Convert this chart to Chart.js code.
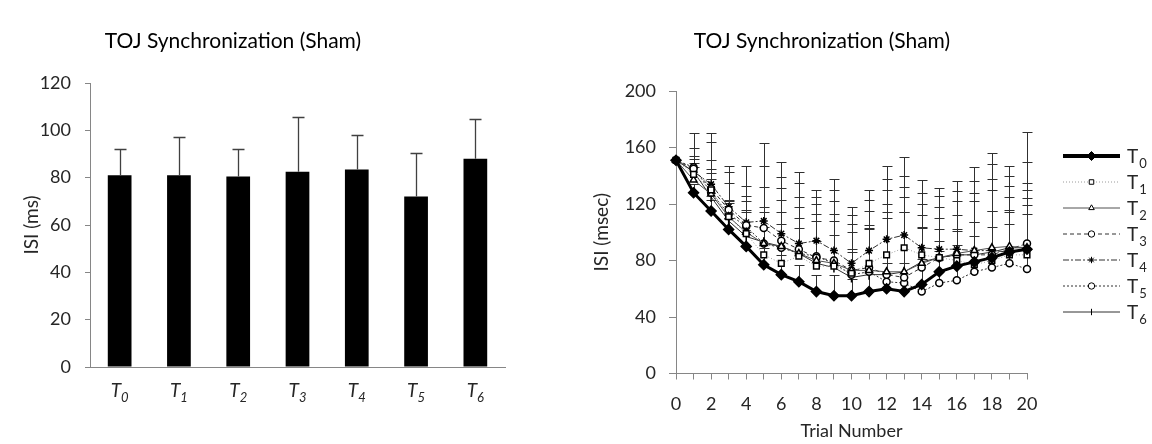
<!DOCTYPE html>
<html>
<head>
<meta charset="utf-8">
<script src="https://cdn.jsdelivr.net/npm/chart.js@4/dist/chart.umd.min.js"></script>
<style>
  html, body { margin: 0; padding: 0; background: #fff; }
  #wrap { position: relative; width: 1152px; height: 444px; }
  #left { position: absolute; left: 0; top: 0; width: 540px; height: 444px; }
  #right { position: absolute; left: 540px; top: 0; width: 612px; height: 444px; }
</style>
</head>
<body>
<div id="wrap">
  <div id="left"><canvas id="bar-chart"></canvas></div>
  <div id="right"><canvas id="line-chart"></canvas></div>
</div>
<script>
// sessions (bar chart categories and line chart series)
var sessions = ['T0', 'T1', 'T2', 'T3', 'T4', 'T5', 'T6'];
var sessionMeans = [81, 81, 80.5, 82.5, 83.5, 72, 88];
var sessionSD = [11.3, 16, 11.8, 23.1, 14.5, 18.5, 17];

// trials for line chart
var trials = [0, 1, 2, 3, 4, 5, 6, 7, 8, 9, 10, 11, 12, 13, 14, 15, 16, 17, 18, 19, 20];

var t0Means = [151, 128, 115, 102, 90, 77, 70, 65, 58, 55, 55, 58, 60, 58, 63, 72, 76, 79, 82, 86, 88];
var t1Means = [151, 141, 130, 111, 99, 84, 78, 83, 76, 76, 71, 78, 84, 89, 84, 82, 80, 77, 80, 84, 84];
var t2Means = [151, 137, 127, 111, 100, 92, 90, 85, 80, 78, 73, 73, 72, 72, 78, 82, 85, 87, 89, 90, 89];
var t3Means = [151, 145, 131, 116, 105, 103, 94, 88, 82, 80, 73, 75, 70, 68, 75, 82, 84, 84, 84, 88, 92];
var t4Means = [151, 143, 134, 118, 107, 108, 99, 92, 94, 87, 78, 87, 95, 98, 89, 88, 88, 87, 87, 86, 88];
var t5Means = [151, 146, 128, 113, 104, 92, 89, 85, 83, 78, 70, 72, 65, 64, 58, 64, 66, 72, 75, 78, 74];
var t6Means = [151, 143, 125, 108, 97, 93, 90, 85, 78, 75, 68, 70, 70, 72, 79, 82, 84, 84, 86, 89, 89];

var t0SD = [0, 6, 8, 8, 10, 12, 14, 12, 12, 15, 12, 15, 18, 20, 18, 15, 15, 18, 22, 20, 25];
var t1SD = [0, 5, 12, 12, 15, 20, 28, 20, 18, 22, 15, 25, 30, 25, 20, 20, 22, 30, 35, 30, 35];
var t2SD = [0, 12, 18, 11, 22, 26, 33, 33, 33, 35, 27, 32, 48, 53, 34, 28, 27, 35, 41, 35, 41];
var t3SD = [0, 7, 20, 19, 21, 29, 37, 37, 38, 42, 33, 40, 60, 64, 45, 36, 38, 44, 54, 45, 43];
var t4SD = [0, 17, 30, 25, 26, 39, 40, 43, 31, 43, 34, 36, 43, 42, 39, 38, 41, 49, 61, 54, 62];
var t5SD = [0, 8, 10, 8, 12, 22, 25, 25, 25, 30, 18, 30, 45, 50, 45, 30, 35, 35, 40, 38, 50];
var t6SD = [0, 27, 45, 39, 50, 70, 60, 58, 52, 63, 50, 60, 77, 81, 58, 49, 52, 62, 70, 58, 82];

var FONT = 'Lato';
var TEXT = '#262626';
var AXIS = '#868686';

// upper error bars, drawn from each element's position
var errorBars = {
  id: 'errorBars',
  beforeDatasetsDraw: function(chart, args, opts) {
    if (!opts.behind) return;
    drawErrors(chart, opts);
  },
  afterDatasetsDraw: function(chart, args, opts) {
    if (opts.behind) return;
    drawErrors(chart, opts);
  }
};

function drawErrors(chart, opts) {
  var ctx = chart.ctx;
  var yScale = chart.scales.y;
  ctx.save();
  ctx.strokeStyle = opts.color;
  ctx.lineWidth = opts.lineWidth;
  chart.data.datasets.forEach(function(ds, i) {
    if (!ds.errors) return;
    var meta = chart.getDatasetMeta(i);
    meta.data.forEach(function(el, j) {
      var e = ds.errors[j];
      if (!e) return;
      var yb = yScale.getPixelForValue(ds.data[j]);
      var yt = yScale.getPixelForValue(ds.data[j] + e);
      var x = Math.round(el.x) + 0.5;
      yt = Math.round(yt) + 0.5;
      ctx.beginPath();
      ctx.moveTo(x, yb);
      ctx.lineTo(x, yt);
      ctx.moveTo(x - opts.cap / 2, yt);
      ctx.lineTo(x + opts.cap / 2, yt);
      ctx.stroke();
    });
  });
  ctx.restore();
}

// chart titles
var plotTitle = {
  id: 'plotTitle',
  afterDraw: function(chart, args, opts) {
    var ctx = chart.ctx;
    ctx.save();
    ctx.font = opts.size + 'px ' + FONT;
    ctx.fillStyle = '#000';
    ctx.textAlign = 'center';
    ctx.textBaseline = 'middle';
    ctx.fillText(opts.text, opts.x, opts.y);
    ctx.restore();
  }
};

// "T" with subscript digit
function drawSub(ctx, label, x, y, size, italic, align) {
  var base = label.charAt(0), sub = label.slice(1);
  var st = italic ? 'italic ' : '';
  ctx.font = st + size + 'px ' + FONT;
  var w1 = ctx.measureText(base).width;
  ctx.font = st + Math.round(size * 0.68) + 'px ' + FONT;
  var w2 = ctx.measureText(sub).width;
  var x0 = align === 'center' ? x - (w1 + w2) / 2 : x;
  ctx.textAlign = 'left';
  ctx.textBaseline = 'alphabetic';
  ctx.font = st + size + 'px ' + FONT;
  ctx.fillText(base, x0, y);
  ctx.font = st + Math.round(size * 0.68) + 'px ' + FONT;
  ctx.fillText(sub, x0 + w1 + (italic ? 0 : 1), y + size * 0.28);
}

var subLabels = {
  id: 'subLabels',
  afterDraw: function(chart) {
    var ctx = chart.ctx;
    var xs = chart.scales.x;
    ctx.save();
    ctx.fillStyle = TEXT;
    chart.data.labels.forEach(function(lab, i) {
      drawSub(ctx, lab, xs.getPixelForTick(i), chart.chartArea.bottom + 30, 19, true, 'center');
    });
    ctx.restore();
  }
};

var sideLegend = {
  id: 'sideLegend',
  afterDraw: function(chart, args, opts) {
    var ctx = chart.ctx;
    ctx.save();
    chart.data.datasets.forEach(function(ds, i) {
      var y = opts.top + i * opts.step;
      ctx.strokeStyle = ds.borderColor;
      ctx.lineWidth = ds.borderWidth + (i === 0 ? 1 : 0);
      ctx.setLineDash(ds.borderDash || []);
      ctx.beginPath();
      ctx.moveTo(opts.x, y);
      ctx.lineTo(opts.x + opts.len, y);
      ctx.stroke();
      ctx.setLineDash([]);
      ctx.fillStyle = ds.pointBackgroundColor;
      ctx.strokeStyle = ds.pointBorderColor;
      ctx.lineWidth = 1;
      Chart.helpers.drawPoint(ctx, {
        pointStyle: ds.pointStyle,
        rotation: ds.pointRotation || 0,
        radius: i === 0 ? 4.5 : 3.2,
        borderWidth: 1
      }, opts.x + opts.len / 2, y);
      ctx.fillStyle = TEXT;
      drawSub(ctx, ds.label, opts.x + opts.len + 7, y + 7, 19, false, 'left');
    });
    ctx.restore();
  }
};

var barChart = new Chart(document.getElementById('bar-chart').getContext('2d'), {
  type: 'bar',
  data: {
    labels: sessions,
    datasets: [{
      label: 'ISI',
      data: sessionMeans,
      errors: sessionSD,
      backgroundColor: '#000',
      barPercentage: 0.4,
      categoryPercentage: 1
    }]
  },
  options: {
    responsive: true,
    maintainAspectRatio: false,
    animation: false,
    layout: { padding: { top: 83, left: 20, right: 35, bottom: 0 } },
    plugins: {
      legend: { display: false },
      tooltip: { enabled: false },
      errorBars: { color: '#404040', lineWidth: 1.3, cap: 12, behind: false },
      plotTitle: { text: 'TOJ Synchronization (Sham)', x: 233, y: 41, size: 21 }
    },
    scales: {
      x: {
        ticks: { display: false },
        grid: { display: false },
        border: { display: true, color: AXIS, width: 1 },
        afterFit: function(s) { s.height = 77; }
      },
      y: {
        min: 0, max: 120,
        ticks: { stepSize: 20, padding: 14, color: TEXT, font: { family: FONT, size: 18 } },
        grid: { drawOnChartArea: false, tickLength: 5, color: AXIS },
        border: { display: true, color: AXIS, width: 1 },
        title: { display: true, text: 'ISI (ms)', color: TEXT, padding: 0, font: { family: FONT, size: 19 } },
        afterFit: function(s) { s.width = 70; }
      }
    }
  },
  plugins: [errorBars, plotTitle, subLabels]
});

function series(label, means, sd, style) {
  return Object.assign({
    label: label,
    data: means,
    errors: sd,
    fill: false,
    tension: 0,
    pointBackgroundColor: '#fff',
    pointBorderColor: '#000',
    pointBorderWidth: 1.5,
    pointRadius: 3.5
  }, style);
}

var lineChart = new Chart(document.getElementById('line-chart').getContext('2d'), {
  type: 'line',
  data: {
    labels: trials,
    datasets: [
      series(sessions[0], t0Means, t0SD, { borderColor: '#000', borderWidth: 3, pointStyle: 'rectRot', pointBackgroundColor: '#000', pointRadius: 5 }),
      series(sessions[1], t1Means, t1SD, { borderColor: '#9a9a9a', borderWidth: 1, borderDash: [1, 2], pointStyle: 'rect', pointRadius: 4 }),
      series(sessions[2], t2Means, t2SD, { borderColor: '#505050', borderWidth: 1, pointStyle: 'triangle', pointRadius: 4 }),
      series(sessions[3], t3Means, t3SD, { borderColor: '#303030', borderWidth: 1, borderDash: [4, 3], pointStyle: 'circle' }),
      series(sessions[4], t4Means, t4SD, { borderColor: '#303030', borderWidth: 1, borderDash: [6, 2, 2, 2], pointStyle: 'star', pointRadius: 4 }),
      series(sessions[5], t5Means, t5SD, { borderColor: '#303030', borderWidth: 1, borderDash: [2, 2], pointStyle: 'circle' }),
      series(sessions[6], t6Means, t6SD, { borderColor: '#303030', borderWidth: 1, pointStyle: 'line', pointRotation: 90, pointRadius: 5 })
    ]
  },
  options: {
    responsive: true,
    maintainAspectRatio: false,
    animation: false,
    layout: { padding: { top: 91, left: 50, right: 125, bottom: 2 } },
    plugins: {
      legend: { display: false },
      tooltip: { enabled: false },
      errorBars: { color: '#303030', lineWidth: 1, cap: 10, behind: true },
      plotTitle: { text: 'TOJ Synchronization (Sham)', x: 282, y: 41, size: 21 },
      sideLegend: { x: 523, len: 57, top: 156, step: 26 }
    },
    scales: {
      x: {
        ticks: {
          autoSkip: false, maxRotation: 0, padding: 14, color: TEXT,
          font: { family: FONT, size: 18 },
          callback: function(v, i) { return trials[i] % 2 === 0 ? String(trials[i]) : ''; }
        },
        grid: { drawOnChartArea: false, tickLength: 6, color: AXIS },
        border: { display: true, color: AXIS, width: 1 },
        title: { display: true, text: 'Trial Number', color: TEXT, padding: 0, font: { family: FONT, size: 18 } },
        afterFit: function(s) { s.height = 68.5; }
      },
      y: {
        min: 0, max: 200,
        ticks: { stepSize: 40, padding: 13, color: TEXT, font: { family: FONT, size: 18 } },
        grid: { drawOnChartArea: false, tickLength: 7, color: AXIS },
        border: { display: true, color: AXIS, width: 1 },
        title: { display: true, text: 'ISI (msec)', color: TEXT, padding: 0, font: { family: FONT, size: 19 } },
        afterFit: function(s) { s.width = 86; }
      }
    }
  },
  plugins: [errorBars, plotTitle, sideLegend]
});
</script>
</body>
</html>
